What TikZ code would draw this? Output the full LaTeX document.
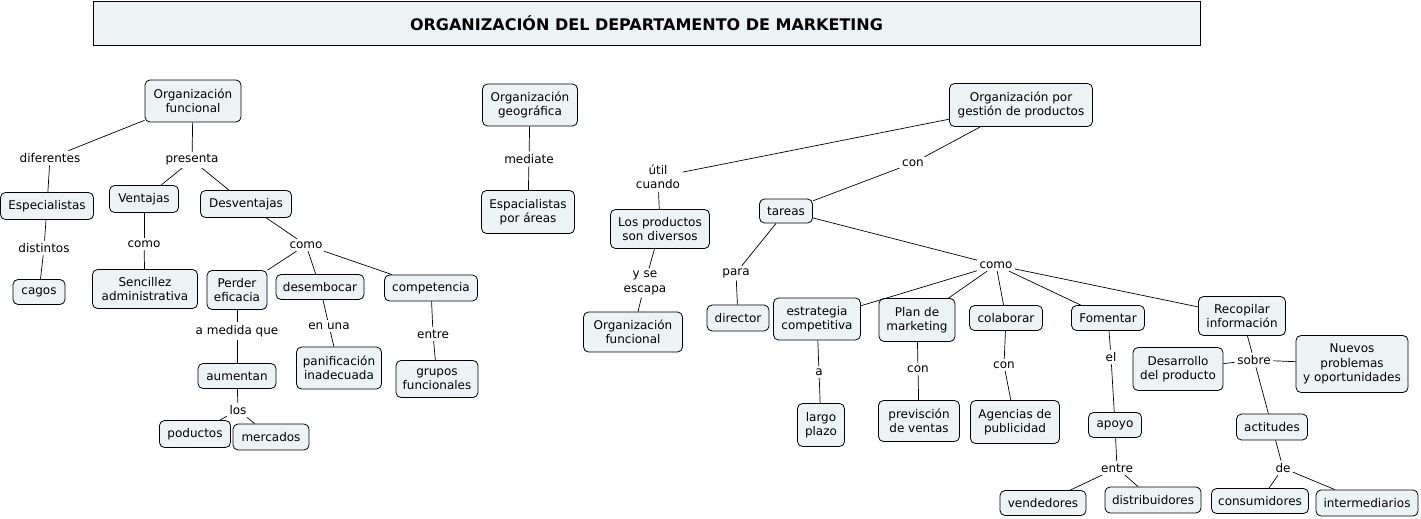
\documentclass[tikz,border=0pt]{standalone}
\usepackage{fontspec}
\setmainfont{DejaVu Sans}
\definecolor{boxfill}{HTML}{EDF3F5}
\begin{document}
\begin{tikzpicture}[x=1pt,y=-1pt,
  box/.style={draw=black, line width=0.8pt, rounded corners=5pt, fill=boxfill, align=center, inner sep=2pt, font=\fontsize{12}{14.5}\selectfont},
  lbl/.style={align=center, inner sep=2.5pt, font=\fontsize{12}{14.5}\selectfont},
  conn/.style={line width=0.7pt}]
\useasboundingbox (0,0) rectangle (1421,519);
\node[draw=black, line width=0.8pt, fill=boxfill, minimum width=1107, minimum height=44, inner sep=0pt, font=\fontsize{16}{18}\selectfont\bfseries] (title) at (646.5,23) {ORGANIZACIÓN DEL DEPARTAMENTO DE MARKETING};

% left cluster
\node[box, minimum width=96, minimum height=42] (of1) at (193,101) {Organización\\funcional};
\node[lbl] (dif) at (50,158) {diferentes};
\node[lbl] (pres) at (192,160) {presenta};
\node[box, minimum width=93, minimum height=27] (esp) at (47,206) {Especialistas};
\node[box, minimum width=69, minimum height=27] (ven) at (144,199) {Ventajas};
\node[box, minimum width=91, minimum height=27] (desv) at (246,204) {Desventajas};
\node[lbl] (dist) at (44,248) {distintos};
\node[box, minimum width=52, minimum height=25] (cagos) at (39,292) {cagos};
\node[lbl] (como1) at (144,244) {como};
\node[box, minimum width=105, minimum height=39] (senc) at (145,289) {Sencillez\\administrativa};
\node[lbl] (como2) at (306,245) {como};
\node[box, minimum width=60, minimum height=39] (perd) at (237,290) {Perder\\eficacia};
\node[box, minimum width=88, minimum height=25] (desem) at (320,287) {desembocar};
\node[box, minimum width=93, minimum height=26] (comp) at (431,288) {competencia};
\node[lbl] (amq) at (237,331) {a medida que};
\node[lbl] (enuna) at (329,326) {en una};
\node[lbl] (entre1) at (433,334) {entre};
\node[box, minimum width=78, minimum height=25] (aum) at (237,376) {aumentan};
\node[box, minimum width=85, minimum height=42] (panif) at (339,368) {panificación\\inadecuada};
\node[box, minimum width=82, minimum height=37] (grupos) at (437,379) {grupos\\funcionales};
\node[lbl] (los) at (238,410) {los};
\node[box, minimum width=71, minimum height=27] (pod) at (195,434) {poductos};
\node[box, minimum width=76, minimum height=26] (merc) at (271,437) {mercados};

% middle cluster
\node[box, minimum width=95, minimum height=42] (og) at (530,105) {Organización\\geográfica};
\node[lbl] (med) at (529,159) {mediate};
\node[box, minimum width=93, minimum height=43] (espa) at (528,212) {Espacialistas\\por áreas};
\node[lbl] (util) at (658,177) {útil\\cuando};
\node[box, minimum width=99, minimum height=39] (lpd) at (660,229) {Los productos\\son diversos};
\node[lbl] (yse) at (645,283) {y se\\escapa};
\node[box, minimum width=99, minimum height=40] (of2) at (633,332) {Organización\\funcional};

% right cluster
\node[box, minimum width=143, minimum height=43] (ogp) at (1021,105) {Organización por\\gestión de productos};
\node[lbl] (con1) at (913,163) {con};
\node[box, minimum width=53, minimum height=24] (tar) at (786,211) {tareas};
\node[lbl] (para) at (736,273) {para};
\node[lbl] (como3) at (996,265) {como};
\node[box, minimum width=62, minimum height=26] (dir) at (738,318) {director};
\node[box, minimum width=87, minimum height=42] (estr) at (817,319) {estrategia\\competitiva};
\node[box, minimum width=76, minimum height=43] (plan) at (917,320) {Plan de\\marketing};
\node[box, minimum width=73, minimum height=25] (colab) at (1006,318) {colaborar};
\node[box, minimum width=73, minimum height=25] (fom) at (1108,318) {Fomentar};
\node[box, minimum width=87, minimum height=39] (recop) at (1242,316) {Recopilar\\información};
\node[lbl] (a) at (819,372) {a};
\node[lbl] (con2) at (918,369) {con};
\node[lbl] (con3) at (1004,365) {con};
\node[lbl] (el) at (1111,357) {el};
\node[lbl] (sobre) at (1254,360) {sobre};
\node[box, minimum width=90, minimum height=43] (desa) at (1178,369) {Desarrollo\\del producto};
\node[box, minimum width=112, minimum height=57] (nuevos) at (1352,364) {Nuevos\\problemas\\y oportunidades};
\node[box, minimum width=47, minimum height=43] (largo) at (821,425) {largo\\plazo};
\node[box, minimum width=81, minimum height=41] (prev) at (919,421) {previsción\\de ventas};
\node[box, minimum width=89, minimum height=43] (agen) at (1015,422) {Agencias de\\publicidad};
\node[box, minimum width=53, minimum height=25] (apoyo) at (1115,425) {apoyo};
\node[box, minimum width=71, minimum height=26] (actit) at (1272,427) {actitudes};
\node[lbl] (entre2) at (1117,468) {entre};
\node[lbl] (de) at (1283,468) {de};
\node[box, minimum width=86, minimum height=25] (vend) at (1043,503) {vendedores};
\node[box, minimum width=96, minimum height=26] (distr) at (1153,500) {distribuidores};
\node[box, minimum width=97, minimum height=25] (cons) at (1260,501) {consumidores};
\node[box, minimum width=102, minimum height=26] (inter) at (1367,503) {intermediarios};

% connectors
\draw[conn] (of1) -- (dif);
\draw[conn] (dif) -- (esp);
\draw[conn] (of1) -- (pres);
\draw[conn] (pres) -- (ven);
\draw[conn] (pres) -- (desv);
\draw[conn] (esp) -- (dist);
\draw[conn] (dist) -- (cagos);
\draw[conn] (ven) -- (como1);
\draw[conn] (como1) -- (senc);
\draw[conn] (desv) -- (como2);
\draw[conn] (como2) -- (perd);
\draw[conn] (como2) -- (desem);
\draw[conn] (como2) -- (comp);
\draw[conn] (perd) -- (amq);
\draw[conn] (amq) -- (aum);
\draw[conn] (desem) -- (enuna);
\draw[conn] (enuna) -- (panif);
\draw[conn] (comp) -- (entre1);
\draw[conn] (entre1) -- (grupos);
\draw[conn] (aum) -- (los);
\draw[conn] (los) -- (pod);
\draw[conn] (los) -- (merc);
\draw[conn] (og) -- (med);
\draw[conn] (med) -- (espa);
\draw[conn] (ogp) -- (util);
\draw[conn] (util) -- (lpd);
\draw[conn] (lpd) -- (yse);
\draw[conn] (yse) -- (of2);
\draw[conn] (ogp) -- (con1);
\draw[conn] (con1) -- (tar);
\draw[conn] (tar) -- (para);
\draw[conn] (para) -- (dir);
\draw[conn] (tar) -- (como3);
\draw[conn] (como3) -- (estr);
\draw[conn] (como3) -- (plan);
\draw[conn] (como3) -- (colab);
\draw[conn] (como3) -- (fom);
\draw[conn] (como3) -- (recop);
\draw[conn] (estr) -- (a);
\draw[conn] (a) -- (largo);
\draw[conn] (plan) -- (con2);
\draw[conn] (con2) -- (prev);
\draw[conn] (colab) -- (con3);
\draw[conn] (con3) -- (agen);
\draw[conn] (fom) -- (el);
\draw[conn] (el) -- (apoyo);
\draw[conn] (apoyo) -- (entre2);
\draw[conn] (entre2) -- (vend);
\draw[conn] (entre2) -- (distr);
\draw[conn] (recop) -- (sobre);
\draw[conn] (sobre) -- (desa);
\draw[conn] (sobre) -- (nuevos);
\draw[conn] (sobre) -- (actit);
\draw[conn] (actit) -- (de);
\draw[conn] (de) -- (cons);
\draw[conn] (de) -- (inter);
\end{tikzpicture}
\end{document}
